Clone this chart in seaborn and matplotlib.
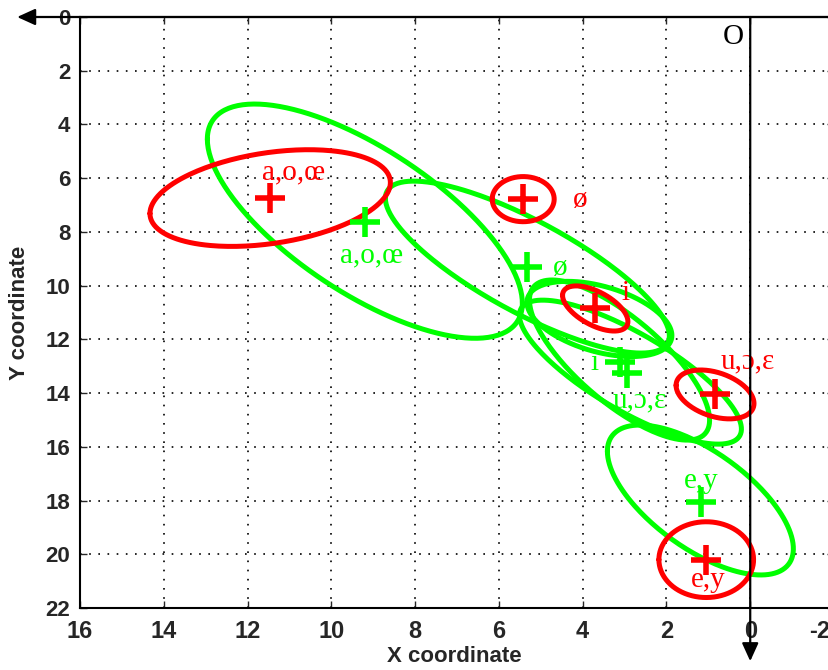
import numpy as np
import pandas as pd
import matplotlib
matplotlib.use("Agg")
import matplotlib.pyplot as plt
import matplotlib.transforms as mtransforms
import seaborn as sns

# --------------------------------------------------------------
# Data
# --------------------------------------------------------------

labels = ["a,o,œ", "ø", "i", "u,ɔ,ε", "e,y"]

# red group: cross positions + ellipse extents (half-span x, half-span y, correlation)
red_x = [11.46, 5.42, 3.70, 0.84, 1.05]
red_y = [6.74, 6.78, 10.85, 14.05, 20.20]
red_sx = [2.87, 0.74, 0.78, 0.93, 1.13]
red_sy = [1.80, 0.84, 0.84, 0.91, 1.41]
red_rho = [0.32, 0.0, -0.58, -0.37, 0.0]
red_lab_x = [10.90, 4.06, 2.98, 0.05, 1.00]
red_lab_y = [5.80, 6.81, 10.28, 12.81, 20.96]

# green group
green_x = [9.19, 5.32, 3.12, 2.94, 1.17]
green_y = [7.63, 9.31, 12.85, 13.25, 18.06]
green_lab_x = [9.05, 4.53, 3.72, 2.65, 1.17]
green_lab_y = [8.86, 9.34, 12.88, 14.26, 17.27]

# green ellipses (centre x, centre y, half-span x, half-span y, correlation)
green_ecx = [9.20, 5.32, 3.12, 2.86, 1.19, 3.60]
green_ecy = [7.60, 9.31, 12.77, 13.22, 17.98, 11.24]
green_esx = [3.76, 3.39, 2.15, 2.65, 2.22, 1.73]
green_esy = [4.36, 3.20, 2.98, 2.68, 2.79, 1.40]
green_erho = [-0.70, -0.80, -0.75, -0.79, -0.65, -0.44]

x_ticks = [16, 14, 12, 10, 8, 6, 4, 2, 0, -2]
y_ticks = [0, 2, 4, 6, 8, 10, 12, 14, 16, 18, 20, 22]

RED = "#ff0000"
GREEN = "#00ff00"


def ellipse_frame(cx, cy, sx, sy, rho, n=240):
    t = np.linspace(0, 2 * np.pi, n)
    x = cx + sx * np.cos(t)
    y = cy + sy * (rho * np.cos(t) + np.sqrt(1 - rho ** 2) * np.sin(t))
    return pd.DataFrame({"x": x, "y": y})


# --------------------------------------------------------------
# Figure
# --------------------------------------------------------------

sns.set_style("ticks")
plt.rcParams["font.family"] = ["Liberation Sans", "DejaVu Sans"]

fig = plt.figure(figsize=(8.29, 6.70), dpi=100)
ax = fig.add_axes([80 / 829, 62 / 670, 754 / 829, 591 / 670])

# green ellipses
for cx, cy, sx, sy, r in zip(green_ecx, green_ecy, green_esx, green_esy, green_erho):
    df = ellipse_frame(cx, cy, sx, sy, r)
    sns.lineplot(data=df, x="x", y="y", sort=False, estimator=None,
                 color=GREEN, linewidth=3.6, ax=ax, zorder=3)

# red ellipses
for cx, cy, sx, sy, r in zip(red_x, red_y, red_sx, red_sy, red_rho):
    df = ellipse_frame(cx, cy, sx, sy, r)
    sns.lineplot(data=df, x="x", y="y", sort=False, estimator=None,
                 color=RED, linewidth=3.6, ax=ax, zorder=4)

# crosses
ax.plot(green_x, green_y, "+", color=GREEN, ms=21, mew=4, zorder=5)
ax.plot(red_x, red_y, "+", color=RED, ms=21, mew=4, zorder=6)

# vowel labels
for lab, x, y in zip(labels, red_lab_x, red_lab_y):
    ax.text(x, y, lab, color=RED, fontsize=21, family="Liberation Serif",
            ha="center", va="center", zorder=7)
for lab, x, y in zip(labels, green_lab_x, green_lab_y):
    ax.text(x, y, lab, color=GREEN, fontsize=21, family="Liberation Serif",
            ha="center", va="center", zorder=7)

ax.text(0.41, 0.74, "O", color="black", fontsize=21, family="Liberation Serif",
        ha="center", va="center")

# axes: inverted, MATLAB-like frame
ax.set_xlim(16, -2)
ax.set_ylim(22, 0)
ax.set_xticks(x_ticks)
ax.set_yticks(y_ticks)
ax.set_xticklabels([str(v) for v in x_ticks])
ax.set_yticklabels([str(v) for v in y_ticks])
ax.tick_params(direction="in", top=True, right=True, length=5, width=1,
               labelsize=16, pad=7)
ax.tick_params(axis="x", labelsize=17, pad=9)
for lab in ax.get_xticklabels() + ax.get_yticklabels():
    lab.set_fontweight("bold")

# last x tick label sits half outside the picture, as in the original
last = ax.get_xticklabels()[-1]
last.set_transform(last.get_transform()
                   + mtransforms.ScaledTranslation(-10 / 72, 0, fig.dpi_scale_trans))

ax.grid(True, color="black", linestyle=(0, (1, 4.5)), linewidth=1.2)
for sp in ax.spines.values():
    sp.set_linewidth(1.5)
    sp.set_color("black")

ax.set_xlabel("X coordinate", fontsize=16, fontweight="bold")
ax.set_ylabel("Y coordinate", fontsize=16, fontweight="bold")
ax.xaxis.set_label_coords(0.497, -0.064)
ax.yaxis.set_label_coords(-0.066, 0.5)

# coordinate arrows through the origin
head = "-|>,head_length=0.55,head_width=0.25"
ax.annotate("", xy=(17.5, 0), xytext=(-2, 0),
            arrowprops=dict(arrowstyle=head, color="black", lw=1.6,
                            mutation_scale=20, shrinkA=0, shrinkB=0),
            annotation_clip=False, zorder=8)
ax.annotate("", xy=(0, 23.98), xytext=(0, 0),
            arrowprops=dict(arrowstyle=head, color="black", lw=1.6,
                            mutation_scale=20, shrinkA=0, shrinkB=0),
            annotation_clip=False, zorder=8)

fig.savefig("out.png", dpi=100)
